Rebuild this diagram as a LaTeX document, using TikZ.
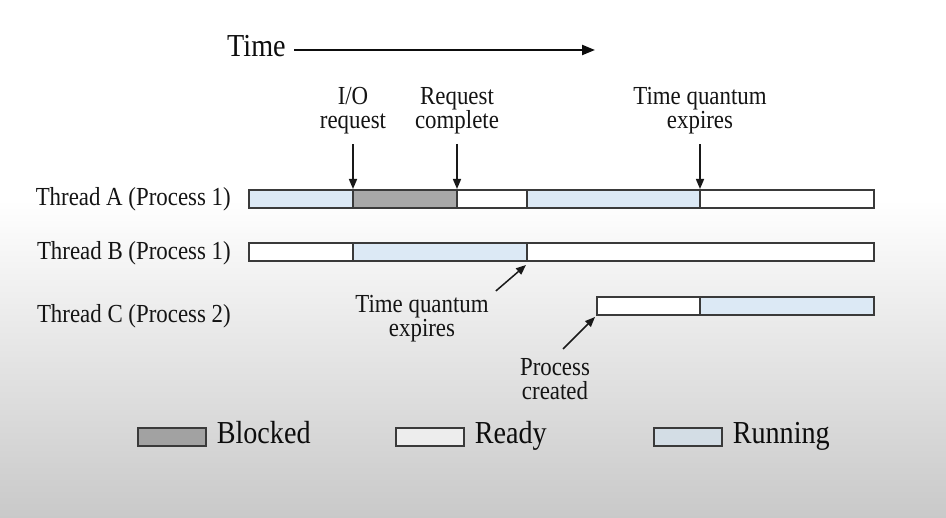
\documentclass[tikz,border=0pt]{standalone}
\usepackage{fontspec}
\setmainfont[FakeStretch=0.88]{Liberation Serif}
\usetikzlibrary{arrows.meta}
\definecolor{runblue}{HTML}{DCE9F5}
\definecolor{blockgray}{HTML}{A8A8A8}
\definecolor{edge}{HTML}{3A3A3A}
\definecolor{bggray}{HTML}{C9C9C9}
\definecolor{legblock}{HTML}{A2A2A2}
\definecolor{legready}{HTML}{EDEDED}
\definecolor{legrun}{HTML}{D3DDE5}
\tikzset{
  seg/.style={draw=edge, line width=1.6pt},
  running/.style={seg, fill=runblue},
  blocked/.style={seg, fill=blockgray},
  ready/.style={seg, fill=white},
  arr/.style={-{Triangle[length=10pt,width=8pt]}, line width=1.5pt, black!90},
  lbl/.style={font=\fontsize{26}{24}\selectfont, inner sep=0pt, align=center, text=black!92},
  thr/.style={font=\fontsize{26}{24}\selectfont, inner sep=0pt, anchor=base east, text=black!92},
  leg/.style={font=\fontsize{32}{32}\selectfont, inner sep=0pt, anchor=base west, text=black!95},
  legbox/.style={draw=edge, line width=1.6pt, minimum width=68pt, minimum height=18pt, inner sep=0pt}
}
\begin{document}
\begin{tikzpicture}[x=1pt,y=-1pt]
\useasboundingbox (0,0) rectangle (946,518);
\fill[white] (0,0) rectangle (946,518);
\shade[top color=white, bottom color=bggray] (0,200) rectangle (946,518);

% Time axis
\node[font=\fontsize{32}{32}\selectfont, inner sep=0pt, anchor=base west, text=black!95] (time) at (227,57) {Time};
\coordinate (timestart) at (294,50);
\coordinate (timeend) at (595,50);
\draw[-{Triangle[length=13pt,width=10pt]}, line width=2.2pt, black!95] (timestart) -- (timeend);

% Thread labels
\node[thr] (ta) at (231,205.5) {Thread A (Process 1)};
\node[thr] (tb) at (231,259.5) {Thread B (Process 1)};
\node[thr] (tc) at (231,322.5) {Thread C (Process 2)};

% Thread A bar
\draw[running] (249,190) rectangle (353,208);
\draw[blocked] (353,190) rectangle (457,208);
\draw[ready]   (457,190) rectangle (527,208);
\draw[running] (527,190) rectangle (700,208);
\draw[ready]   (700,190) rectangle (874,208);
% Thread B bar
\draw[ready]   (249,243) rectangle (353,261);
\draw[running] (353,243) rectangle (527,261);
\draw[ready]   (527,243) rectangle (874,261);
% Thread C bar
\draw[ready]   (597,297) rectangle (700,315);
\draw[running] (700,297) rectangle (874,315);

% event coordinates
\coordinate (a1) at (353,189);
\coordinate (a2) at (457,189);
\coordinate (a3) at (700,189);
\coordinate (b2tip) at (526,265);
\coordinate (pctip) at (595,317);

% top labels
\node[lbl, anchor=north] (io) at (353,87) {I/O\\request};
\node[lbl, anchor=north] (rc) at (457,87) {Request\\complete};
\node[lbl, anchor=north] (tq1) at (700,87) {Time quantum\\expires};
\draw[arr] ([yshift=-10pt]io.south) -- (a1);
\draw[arr] ([yshift=-10pt]rc.south) -- (a2);
\draw[arr] ([yshift=-10pt]tq1.south) -- (a3);

% bottom labels
\node[lbl, anchor=north] (tq2) at (422,295) {Time quantum\\expires};
\node[lbl, anchor=north] (pc) at (555,358) {Process\\created};
\draw[arr] ([shift={(7pt,4pt)}]tq2.north east) -- (b2tip);
\draw[arr] ([shift={(8pt,9pt)}]pc.north) -- (pctip);

% legend
\node[legbox, fill=legblock, anchor=north west] (lb) at (137,427) {};
\node[leg] (lbt) at ([xshift=10pt]lb.east |- 0,444) {Blocked};
\node[legbox, fill=legready, anchor=north west] (lr) at (395,427) {};
\node[leg] (lrt) at ([xshift=10pt]lr.east |- 0,444) {Ready};
\node[legbox, fill=legrun, anchor=north west] (lrun) at (653,427) {};
\node[leg] (lrunt) at ([xshift=10pt]lrun.east |- 0,444) {Running};
\end{tikzpicture}
\end{document}
